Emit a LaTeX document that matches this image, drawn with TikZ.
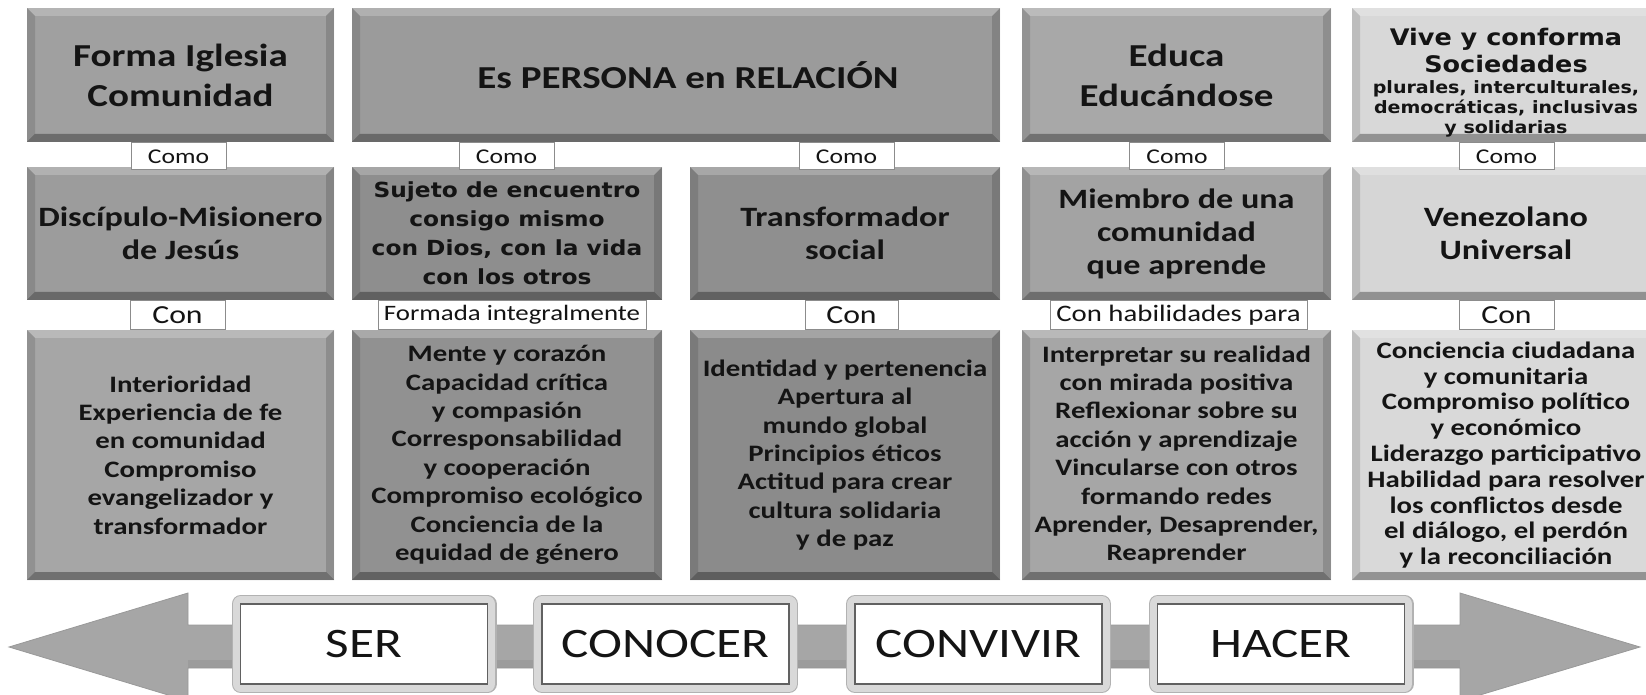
\documentclass[tikz,border=0pt]{standalone}
\usepackage{fontspec}
\setmainfont{Carlito}
\newfontfamily\califont[FakeStretch=1.22]{Carlito}
\newfontfamily\dejafont[FakeStretch=1.12]{DejaVu Sans}
\usepackage{tikz}
\usetikzlibrary{calc}
\usepackage{xcolor}
\definecolor{gForma}{HTML}{A0A0A0}
\definecolor{gPersona}{HTML}{9B9B9B}
\definecolor{gEduca}{HTML}{A8A8A8}
\definecolor{gVive}{HTML}{D8D8D8}
\definecolor{gDiscipulo}{HTML}{9C9C9C}
\definecolor{gSujeto}{HTML}{8E8E8E}
\definecolor{gTransf}{HTML}{8F8F8F}
\definecolor{gMiembro}{HTML}{A3A3A3}
\definecolor{gVenez}{HTML}{D6D6D6}
\definecolor{gInter}{HTML}{A6A6A6}
\definecolor{gMente}{HTML}{919191}
\definecolor{gIdent}{HTML}{8B8B8B}
\definecolor{gInterp}{HTML}{A6A6A6}
\definecolor{gConc}{HTML}{D9D9D9}
\definecolor{gArrow}{HTML}{A6A6A6}
\definecolor{inkText}{HTML}{141414}

\newcommand\headfont{\califont\bfseries\fontsize{16}{20}\selectfont}
\newcommand\midfont{\califont\bfseries\fontsize{14}{16.5}\selectfont}
\newcommand\listfont{\califont\bfseries\fontsize{11.8}{14.2}\selectfont}
\newcommand\listfontB{\califont\bfseries\fontsize{11.8}{12.9}\selectfont}
\newcommand\vivefont{\dejafont\bfseries\fontsize{11.4}{13.5}\selectfont}
\newcommand\vivesmall{\dejafont\bfseries\fontsize{8.5}{10}\selectfont}
\newcommand\sujetofont{\dejafont\bfseries\fontsize{10.4}{14.5}\selectfont}
\newcommand\wordfont{\califont\fontsize{21}{24}\selectfont}

\tikzset{
  bevel/.style={path picture={
    \coordinate (bNW) at (path picture bounding box.north west);
    \coordinate (bNE) at (path picture bounding box.north east);
    \coordinate (bSW) at (path picture bounding box.south west);
    \coordinate (bSE) at (path picture bounding box.south east);
    \fill[white,opacity=.22] (bNW) -- (bNE) -- ($(bNE)+(-4pt,-4pt)$) -- ($(bNW)+(4pt,-4pt)$) -- cycle;
    \fill[black,opacity=.12] (bNW) -- ($(bNW)+(4pt,-4pt)$) -- ($(bSW)+(4pt,4pt)$) -- (bSW) -- cycle;
    \fill[black,opacity=.32] (bSW) -- ($(bSW)+(4pt,4pt)$) -- ($(bSE)+(-4pt,4pt)$) -- (bSE) -- cycle;
    \fill[black,opacity=.15] (bSE) -- ($(bSE)+(-4pt,4pt)$) -- ($(bNE)+(-4pt,-4pt)$) -- (bNE) -- cycle;
  }}
}

\begin{document}
\begin{tikzpicture}[
    x=0.5pt, y=-0.5pt,
    every node/.style={text=inkText},
    tile/.style={bevel, inner sep=0pt, align=center},
    rowA/.style={tile, minimum height=67pt, font=\headfont},
    rowB/.style={tile, minimum height=66.5pt, font=\midfont},
    rowC/.style={tile, minimum height=125pt, font=\listfont},
    tagbox/.style={draw=black!45, line width=.5pt, fill=white, inner sep=0pt},
    comoTag/.style={tagbox, minimum width=47.5pt, minimum height=13.5pt, font=\califont\fontsize{10.5}{12}\selectfont},
    conTag/.style={tagbox, minimum height=14.5pt, font=\califont\fontsize{13}{14}\selectfont},
    wordbox/.style={fill=white, draw=black!62, line width=.6pt, inner sep=0pt,
        minimum width=123.5pt, minimum height=40pt, font=\wordfont,
        preaction={draw=black!30, line width=9pt, line join=round},
        preaction={draw=black!15, line width=7.6pt, line join=round}}
]
    \useasboundingbox (0,0) rectangle (1646,695);
    \clip (0,0) rectangle (1646,695);

    % Fila superior
    \node[rowA, fill=gForma, minimum width=153.5pt] (forma) at (180.5,75) {Forma Iglesia\\Comunidad};
    \node[rowA, fill=gPersona, minimum width=324pt] (persona) at (676,75) {\hspace*{12pt}Es PERSONA en RELACIÓN};
    \node[rowA, fill=gEduca, minimum width=154.5pt] (educa) at (1176.5,75) {Educa\\Educándose};
    \node[rowA, fill=gVive, minimum width=154pt, font=\vivefont] (vive) at (1506,75)
        {\rule{0pt}{16.5pt}Vive y conforma\\Sociedades\\[-3pt]{\vivesmall plurales, interculturales,}\\[-3.5pt]{\vivesmall democráticas, inclusivas}\\[-3.5pt]{\vivesmall y solidarias}};

    % Fila central
    \node[rowB, fill=gDiscipulo, minimum width=153.5pt] (discipulo) at (180.5,233.5) {Discípulo-Misionero\\de Jesús};
    \node[rowB, fill=gSujeto, minimum width=155pt, font=\sujetofont] (sujeto) at (507,233.5)
        {Sujeto de encuentro\\consigo mismo\\con Dios, con la vida\\con los otros};
    \node[rowB, fill=gTransf, minimum width=155pt] (transformador) at (845,233.5) {Transformador\\social};
    \node[rowB, fill=gMiembro, minimum width=154.5pt] (miembro) at (1176.5,233.5) {Miembro de una\\comunidad\\que aprende};
    \node[rowB, fill=gVenez, minimum width=154pt] (venezolano) at (1506,233.5) {Venezolano\\Universal};

    % Fila inferior
    \node[rowC, fill=gInter, minimum width=153.5pt] (interioridad) at (180.5,455)
        {Interioridad\\Experiencia de fe\\en comunidad\\Compromiso\\evangelizador y\\transformador};
    \node[rowC, fill=gMente, minimum width=155pt] (mente) at (507,455)
        {Mente y corazón\\Capacidad crítica\\y compasión\\Corresponsabilidad\\y cooperación\\Compromiso ecológico\\Conciencia de la\\equidad de género};
    \node[rowC, fill=gIdent, minimum width=155pt] (identidad) at (845,455)
        {Identidad y pertenencia\\Apertura al\\mundo global\\Principios éticos\\Actitud para crear\\cultura solidaria\\y de paz};
    \node[rowC, fill=gInterp, minimum width=154.5pt] (interpretar) at (1176.5,455)
        {Interpretar su realidad\\con mirada positiva\\Reflexionar sobre su\\acción y aprendizaje\\Vincularse con otros\\formando redes\\Aprender, Desaprender,\\Reaprender};
    \node[rowC, fill=gConc, minimum width=154pt, font=\listfontB] (conciencia) at (1506,455)
        {Conciencia ciudadana\\y comunitaria\\Compromiso político\\y económico\\Liderazgo participativo\\Habilidad para resolver\\los conflictos desde\\el diálogo, el perdón\\y la reconciliación};

    % Etiquetas "Como"
    \node[comoTag] (comoA) at (178.5,156.5) {Como};
    \node[comoTag] (comoB) at (506.5,156.5) {Como};
    \node[comoTag] (comoC) at (846.5,156.5) {Como};
    \node[comoTag] (comoD) at (1177,156.5) {Como};
    \node[comoTag] (comoE) at (1506.5,156.5) {Como};

    % Etiquetas "Con"
    \node[conTag, minimum width=47.5pt] (conA) at (177.5,315) {Con};
    \node[conTag, minimum width=134pt, font=\califont\fontsize{11}{12}\selectfont] (formada) at (512,315) {Formada integralmente};
    \node[conTag, minimum width=46.5pt] (conC) at (851.5,315) {Con};
    \node[conTag, minimum width=128.5pt, font=\califont\fontsize{11.8}{12}\selectfont] (habilidades) at (1178.5,315) {Con habilidades para};
    \node[conTag, minimum width=47.5pt] (conE) at (1506.5,315) {Con};

    % Flecha doble
    \fill[gArrow, draw=black!40, line width=.4pt]
        (9,647) -- (188,593) -- (188,625) -- (1460,625) -- (1460,593) -- (1640,647)
        -- (1460,701) -- (1460,668) -- (188,668) -- (188,701) -- cycle;
    \fill[black!45, opacity=.35] (188,660) rectangle (1460,668);

    % Palabras sobre la flecha
    \node[wordbox] (ser) at (364,644) {SER};
    \node[wordbox] (conocer) at (665.5,644) {CONOCER};
    \node[wordbox] (convivir) at (978.5,644) {CONVIVIR};
    \node[wordbox] (hacer) at (1281,644) {HACER};
\end{tikzpicture}
\end{document}
